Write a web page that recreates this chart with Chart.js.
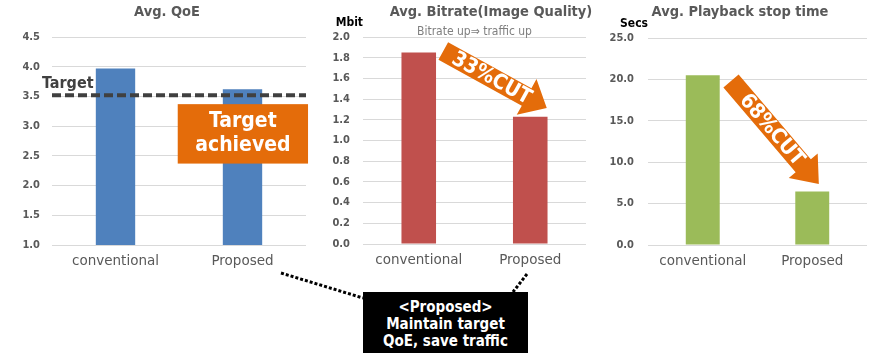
<!DOCTYPE html>
<html>
<head>
<meta charset="utf-8">
<script src="https://cdn.jsdelivr.net/npm/chart.js@4.4.0/dist/chart.umd.min.js"></script>
<style>
    body { margin: 0; background: #fff; }
    #wrap { position: relative; width: 890px; height: 360px; overflow: hidden; }
    #wrap canvas { position: absolute; top: 0; }
    #links { position: absolute; left: 0; top: 0; }
    #note {
        position: absolute; left: 363px; top: 292px; width: 165px; height: 61px;
        box-sizing: border-box; padding-top: 7px;
        background: #000; color: #fff; text-align: center;
        font: bold 15px/17px "DejaVu Sans Condensed";
    }
</style>
</head>
<body>
<div id="wrap">
    <canvas id="qoeChart" width="334" height="280" style="left:0px"></canvas>
    <canvas id="bitrateChart" width="382" height="280" style="left:300px"></canvas>
    <canvas id="stopChart" width="300" height="280" style="left:590px"></canvas>
    <svg id="links" width="890" height="360">
        <line x1="281" y1="273" x2="363" y2="298" stroke="#000" stroke-width="3" stroke-dasharray="3 2"></line>
        <line x1="527" y1="274" x2="513" y2="292" stroke="#000" stroke-width="3" stroke-dasharray="3 2"></line>
    </svg>
    <div id="note">&lt;Proposed&gt;<br>Maintain target<br>QoE, save traffic</div>
</div>
<script>
var categories = ['conventional', 'Proposed'];
var qoeValues = [3.97, 3.62];
var bitrateValues = [1.85, 1.23];
var stopTimeValues = [20.5, 6.45];
var qoeTarget = 3.52;

// axis ranges: [min, max, step]
var qoeAxis = [1.0, 4.5, 0.5];
var bitrateAxis = [0.0, 2.0, 0.2];
var stopAxis = [0.0, 25.0, 5.0];

var FONT = '"DejaVu Sans Condensed"';
Chart.defaults.font.family = 'DejaVu Sans Condensed';
Chart.defaults.color = '#595959';

// extra drawings: target line, callout box, arrows, unit labels
function decorPlugin(cfg) {
    return {
        id: 'decor',
        afterDatasetsDraw: function(chart) {
            var ctx = chart.ctx;
            var xs = chart.scales.x, ys = chart.scales.y, area = chart.chartArea;
            ctx.save();

            if (cfg.unit) {
                ctx.font = 'bold 12px ' + FONT;
                ctx.fillStyle = '#000';
                ctx.textAlign = 'right';
                ctx.textBaseline = 'middle';
                ctx.fillText(cfg.unit, area.left, area.top - 14);
            }
            if (cfg.note) {
                ctx.font = '12px ' + FONT;
                ctx.fillStyle = '#7f7f7f';
                ctx.textAlign = 'center';
                ctx.textBaseline = 'middle';
                ctx.fillText(cfg.note, (area.left + area.right) / 2, area.top - 5);
            }
            if (cfg.target !== undefined) {
                var ty = ys.getPixelForValue(cfg.target);
                ctx.strokeStyle = '#404040';
                ctx.lineWidth = 4;
                ctx.setLineDash([9, 4]);
                ctx.beginPath();
                ctx.moveTo(area.left, ty);
                ctx.lineTo(area.right, ty);
                ctx.stroke();
                ctx.setLineDash([]);
                ctx.font = 'bold 16px ' + FONT;
                ctx.fillStyle = '#404040';
                ctx.textAlign = 'left';
                ctx.textBaseline = 'alphabetic';
                ctx.fillText(cfg.targetLabel, area.left - 10, ty - 7);
            }
            if (cfg.box) {
                var b = cfg.box;
                var bx0 = xs.getPixelForValue(b.x[0]), bx1 = xs.getPixelForValue(b.x[1]);
                var by0 = ys.getPixelForValue(b.y[0]), by1 = ys.getPixelForValue(b.y[1]);
                ctx.fillStyle = '#E46C0A';
                ctx.fillRect(bx0, by0, bx1 - bx0, by1 - by0);
                ctx.font = 'bold 21px ' + FONT;
                ctx.fillStyle = '#fff';
                ctx.textAlign = 'center';
                ctx.textBaseline = 'middle';
                var cx = (bx0 + bx1) / 2, cy = (by0 + by1) / 2;
                for (var i = 0; i < b.lines.length; i++) {
                    ctx.fillText(b.lines[i], cx, cy + (i - (b.lines.length - 1) / 2) * 24);
                }
            }
            if (cfg.arrow) {
                var a = cfg.arrow;
                var x1 = xs.getPixelForValue(a.from[0]), y1 = ys.getPixelForValue(a.from[1]);
                var x2 = xs.getPixelForValue(a.to[0]), y2 = ys.getPixelForValue(a.to[1]);
                var ang = Math.atan2(y2 - y1, x2 - x1);
                var len = Math.hypot(x2 - x1, y2 - y1);
                var s = a.shaft / 2, h = a.head / 2, hb = len - a.headLen;
                ctx.translate(x1, y1);
                ctx.rotate(ang);
                ctx.fillStyle = '#E46C0A';
                ctx.beginPath();
                ctx.moveTo(0, -s);
                ctx.lineTo(hb, -s);
                ctx.lineTo(hb, -h);
                ctx.lineTo(len, 0);
                ctx.lineTo(hb, h);
                ctx.lineTo(hb, s);
                ctx.lineTo(0, s);
                ctx.closePath();
                ctx.fill();
                ctx.font = 'bold 21px ' + FONT;
                ctx.fillStyle = '#fff';
                ctx.textAlign = 'center';
                ctx.textBaseline = 'middle';
                ctx.fillText(a.text, hb / 2 + 8, 1);
            }
            ctx.restore();
        }
    };
}

function makeChart(id, values, color, axis, sizes, decor) {
    var ctx = document.getElementById(id).getContext('2d');
    return new Chart(ctx, {
        type: 'bar',
        data: {
            labels: categories,
            datasets: [{
                data: values,
                backgroundColor: color,
                categoryPercentage: 1,
                barPercentage: 0.31
            }]
        },
        options: {
            responsive: false,
            animation: false,
            layout: { padding: 0 },
            plugins: {
                legend: { display: false },
                tooltip: { enabled: false },
                title: {
                    display: true,
                    text: sizes.title,
                    color: '#595959',
                    font: { size: 14.5, weight: 'bold', lineHeight: 1.2 },
                    padding: { top: 4, bottom: sizes.top - 4 - 17.4 }
                }
            },
            scales: {
                x: {
                    grid: { display: false, drawTicks: false },
                    border: { display: false },
                    ticks: { color: '#595959', font: { family: 'DejaVu Sans', size: 13.5 }, padding: 8 },
                    afterFit: function(s) { s.height = sizes.xh; }
                },
                y: {
                    min: axis[0],
                    max: axis[1],
                    grid: { color: '#d9d9d9', drawTicks: false },
                    border: { display: false },
                    ticks: {
                        stepSize: axis[2],
                        padding: sizes.pad,
                        color: '#595959',
                        font: { size: 11, weight: 'bold' },
                        callback: function(v) { return v.toFixed(1); }
                    },
                    afterFit: function(s) { s.width = sizes.left; }
                },
                yr: {
                    position: 'right',
                    grid: { display: false },
                    border: { display: false },
                    ticks: { display: false },
                    afterFit: function(s) { s.width = sizes.right; }
                }
            }
        },
        plugins: [decorPlugin(decor)]
    });
}

makeChart('qoeChart', qoeValues, '#4F81BD', qoeAxis,
    { title: 'Avg. QoE', top: 37, xh: 35, left: 52, right: 28, pad: 12 },
    {
        target: qoeTarget,
        targetLabel: 'Target',
        box: { x: [0.49, 1.516], y: [3.37, 2.37], lines: ['Target', 'achieved'] }
    });

makeChart('bitrateChart', bitrateValues, '#C0504D', bitrateAxis,
    { title: 'Avg. Bitrate(Image Quality)', top: 37, xh: 36, left: 63, right: 96, pad: 13 },
    {
        unit: 'Mbit',
        note: 'Bitrate up\u21D2 traffic up',
        arrow: { from: [0.22, 1.865], to: [1.148, 1.314], shaft: 20, head: 41, headLen: 23, text: '33%CUT' }
    });

makeChart('stopChart', stopTimeValues, '#9BBB59', stopAxis,
    { title: 'Avg. Playback stop time', top: 38, xh: 35, left: 58, right: 23, pad: 14 },
    {
        unit: 'Secs',
        arrow: { from: [0.258, 19.8], to: [1.06, 7.37], shaft: 20, head: 38, headLen: 24, text: '68%CUT' }
    });
</script>
</body>
</html>
